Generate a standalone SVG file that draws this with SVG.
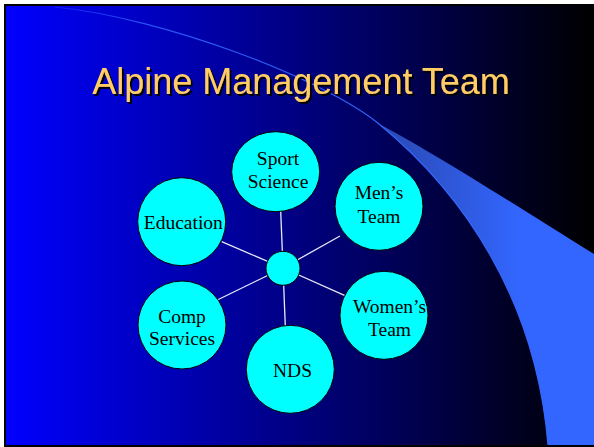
<svg xmlns="http://www.w3.org/2000/svg" width="594" height="447" viewBox="0 0 594 447">
  <defs>
    <linearGradient id="bg" x1="5" y1="0" x2="594" y2="0" gradientUnits="userSpaceOnUse">
      <stop offset="0" stop-color="#0000FF"/>
      <stop offset="1" stop-color="#000000"/>
    </linearGradient>
    <linearGradient id="band" x1="380" y1="0" x2="520" y2="0" gradientUnits="userSpaceOnUse">
      <stop offset="0" stop-color="#2A48B0"/>
      <stop offset="1" stop-color="#3366FF"/>
    </linearGradient>
    <linearGradient id="arc" x1="40" y1="0" x2="380" y2="0" gradientUnits="userSpaceOnUse">
      <stop offset="0" stop-color="#3366FF" stop-opacity="0.2"/>
      <stop offset="0.3" stop-color="#3366FF" stop-opacity="0.8"/>
      <stop offset="1" stop-color="#3366FF"/>
    </linearGradient>
    <filter id="shadow" x="-5%" y="-20%" width="110%" height="140%">
      <feDropShadow dx="2" dy="2" stdDeviation="0" flood-color="#000000" flood-opacity="1"/>
    </filter>
    <style>
      .node circle, .node ellipse { fill: #00FFFF; stroke: #000000; stroke-width: 1; }
      .node text { font-family: "Liberation Serif", "Times New Roman", serif; font-size: 19.5px; fill: #000000; text-anchor: middle; }
      .conn line { stroke: #E8E8F8; stroke-width: 1.3; }
      .title { font-family: "Liberation Sans", Arial, sans-serif; font-size: 36px; text-anchor: middle; fill: #FFCC66; }
    </style>
  </defs>

  <!-- slide background -->
  <rect x="0" y="0" width="594" height="447" fill="#FFFFFF"/>
  <rect x="5" y="5" width="590" height="441" fill="url(#bg)" stroke="#000000" stroke-width="2"/>

  <!-- decorative swoosh -->
  <path d="M379,124 C420,145 500,195 594,254 L594,445 L548,445 C536,300 464,194 379,124 Z" fill="url(#band)"/>
  <path d="M55,7 C165,18 324,79 379,124 C464,194 536,300 548,445" fill="none" stroke="url(#arc)" stroke-width="1.2"/>

  <!-- title -->
  <text class="title" x="301" y="94" filter="url(#shadow)">Alpine Management Team</text>

  <!-- connectors -->
  <g id="connectors" class="conn">
    <line x1="283" y1="268" x2="280.7" y2="211"/>
    <line x1="283" y1="268" x2="340" y2="236"/>
    <line x1="283" y1="268" x2="221.7" y2="241.7"/>
    <line x1="283" y1="268" x2="217.3" y2="300"/>
    <line x1="283" y1="268" x2="285.3" y2="326"/>
    <line x1="283" y1="268" x2="345" y2="295.7"/>
  </g>

  <!-- nodes -->
  <g id="hub" class="node">
    <circle cx="283" cy="268.3" r="17"/>
  </g>
  <g id="sport-science" class="node">
    <ellipse cx="275.7" cy="171.7" rx="44" ry="40"/>
    <text x="278" y="165">Sport</text>
    <text x="278" y="188.3">Science</text>
  </g>
  <g id="mens-team" class="node">
    <circle cx="379" cy="206.3" r="44"/>
    <text x="379" y="199.3">Men’s</text>
    <text x="379" y="222.7">Team</text>
  </g>
  <g id="education" class="node">
    <circle cx="181.7" cy="221.7" r="44"/>
    <text x="183.3" y="229.3">Education</text>
  </g>
  <g id="comp-services" class="node">
    <circle cx="182" cy="325" r="44"/>
    <text x="182" y="323.3">Comp</text>
    <text x="182" y="345.3">Services</text>
  </g>
  <g id="nds" class="node">
    <circle cx="290.3" cy="369.3" r="44"/>
    <text x="292.5" y="376.7">NDS</text>
  </g>
  <g id="womens-team" class="node">
    <circle cx="384" cy="315.3" r="44"/>
    <text x="389.5" y="313.3">Women’s</text>
    <text x="389.5" y="336">Team</text>
  </g>
</svg>
